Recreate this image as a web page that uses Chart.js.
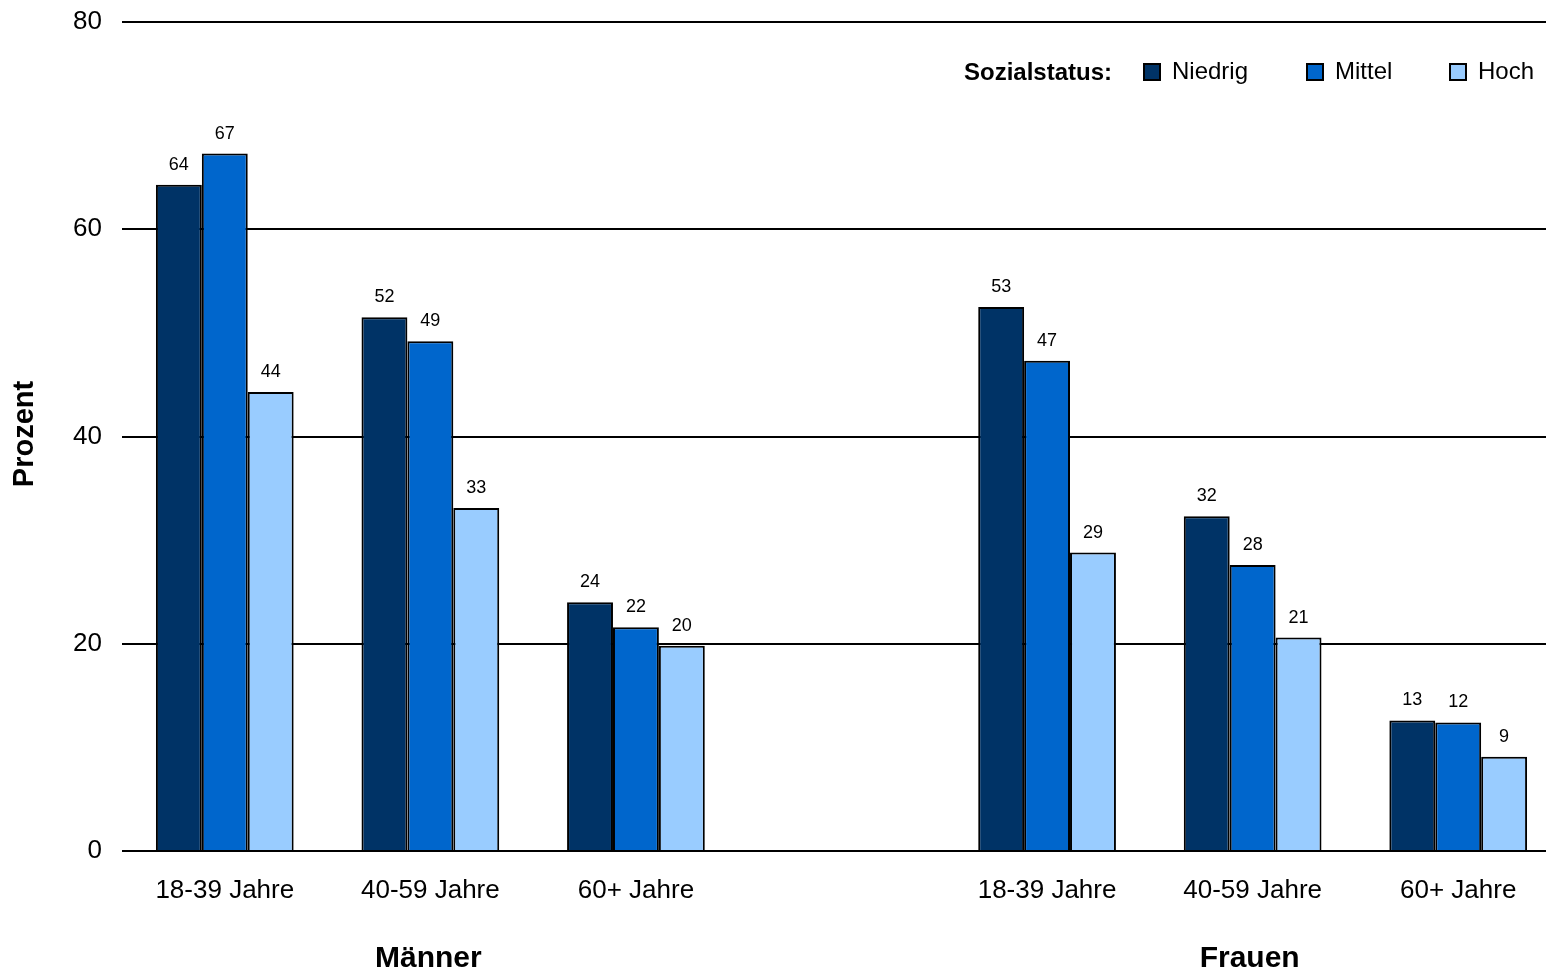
<!DOCTYPE html>
<html>
<head>
<meta charset="utf-8">
<script src="https://cdn.jsdelivr.net/npm/chart.js@4/dist/chart.umd.min.js"></script>
<style>
  html, body { margin: 0; padding: 0; background: #fff; overflow: hidden; }
  #wrap { position: relative; width: 1561px; height: 971px; }
</style>
</head>
<body>
<div id="wrap"><canvas id="bars"></canvas></div>
<script>
const ageLabels = ['18-39 Jahre', '40-59 Jahre', '60+ Jahre', '', '18-39 Jahre', '40-59 Jahre', '60+ Jahre'];
const groupLabels = ['Männer', 'Frauen'];
const niedrig = [64.3, 51.5, 24.0, null, 52.5, 32.3, 12.6];
const mittel = [67.3, 49.2, 21.6, null, 47.3, 27.6, 12.4];
const hoch = [44.3, 33.1, 19.8, null, 28.8, 20.6, 9.1];
const seriesNames = ['Niedrig', 'Mittel', 'Hoch'];
const seriesColors = ['#003366', '#0066CC', '#99CCFF'];

const FONT = '"Liberation Sans", Arial, sans-serif';

// value labels above each bar
const valueLabels = {
  id: 'valueLabels',
  afterDatasetsDraw(chart) {
    const ctx = chart.ctx;
    ctx.save();
    ctx.font = '18px ' + FONT;
    ctx.fillStyle = '#000';
    ctx.textAlign = 'center';
    ctx.textBaseline = 'middle';
    chart.data.datasets.forEach((ds, i) => {
      chart.getDatasetMeta(i).data.forEach((bar, j) => {
        if (ds.data[j] == null) return;
        ctx.fillText(String(Math.round(ds.data[j])), bar.x, bar.y - 20);
      });
    });
    ctx.restore();
  }
};

// legend, group labels, axis title
const extras = {
  id: 'extras',
  afterDraw(chart) {
    const ctx = chart.ctx;
    const x = chart.scales.x;
    ctx.save();
    ctx.fillStyle = '#000';
    ctx.textBaseline = 'middle';

    ctx.font = 'bold 24px ' + FONT;
    ctx.textAlign = 'right';
    ctx.fillText('Sozialstatus:', 1112, 73);

    const boxX = [1144, 1307, 1450];
    ctx.font = '24px ' + FONT;
    ctx.textAlign = 'left';
    seriesNames.forEach((n, i) => {
      ctx.fillStyle = seriesColors[i];
      ctx.fillRect(boxX[i], 64, 16, 16);
      ctx.strokeStyle = '#000';
      ctx.lineWidth = 2;
      ctx.strokeRect(boxX[i], 64, 16, 16);
      ctx.fillStyle = '#000';
      ctx.fillText(n, boxX[i] + 28, 72);
    });

    ctx.font = 'bold 30px ' + FONT;
    ctx.textAlign = 'center';
    const m = (x.getPixelForValue(0) + x.getPixelForValue(2)) / 2;
    const f = (x.getPixelForValue(4) + x.getPixelForValue(6)) / 2;
    ctx.fillText(groupLabels[0], m - 2, 959);
    ctx.fillText(groupLabels[1], f - 3, 959);

    ctx.translate(25, 434);
    ctx.rotate(-Math.PI / 2);
    ctx.font = 'bold 29px ' + FONT;
    ctx.fillText('Prozent', 0, 0);
    ctx.restore();
  }
};

new Chart(document.getElementById('bars'), {
  type: 'bar',
  data: {
    labels: ageLabels,
    datasets: [niedrig, mittel, hoch].map((d, i) => ({
      label: seriesNames[i],
      data: d,
      backgroundColor: seriesColors[i],
      borderColor: '#000',
      borderWidth: 2,
      barPercentage: 1,
      categoryPercentage: 0.67
    }))
  },
  options: {
    responsive: true,
    maintainAspectRatio: false,
    animation: false,
    layout: { padding: { top: 22, right: 0 } },
    plugins: { legend: { display: false }, tooltip: { enabled: false } },
    scales: {
      x: {
        grid: { display: false },
        border: { display: false },
        ticks: { color: '#000', font: { size: 26, family: FONT }, padding: 16, maxRotation: 0, autoSkip: false },
        afterFit(s) { s.height = 120; }
      },
      y: {
        min: 0, max: 80,
        grid: { color: '#000', lineWidth: 2, drawTicks: false },
        border: { display: false },
        ticks: { stepSize: 20, color: '#000', font: { size: 26, family: FONT }, padding: 20 },
        afterFit(s) { s.width = 122; s.paddingTop = 0; s.paddingBottom = 0; }
      }
    }
  },
  plugins: [valueLabels, extras]
});
</script>
</body>
</html>
